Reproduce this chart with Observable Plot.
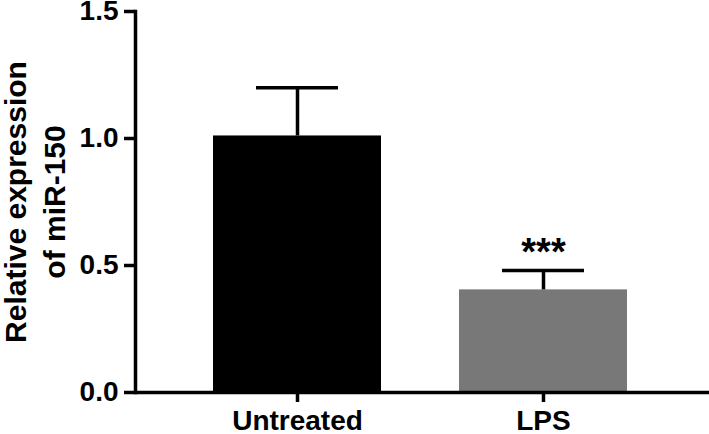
<!DOCTYPE html>
<html><head><meta charset="utf-8">
<script src="https://cdn.jsdelivr.net/npm/d3@7"></script>
<script src="https://cdn.jsdelivr.net/npm/@observablehq/plot@0.6"></script>
<style>body{margin:0;background:#fff}</style>
</head><body><div id="chart"></div>
<script>
const groups = ["Untreated", "LPS"];
const means = [1.01, 0.404];
const errors = [0.19, 0.076];
const significance = ["", "***"];
const barColors = ["#000000", "#787878"];
const yTicks = [0, 0.5, 1.0, 1.5];
const yTitleLines = ["Relative expression", "of miR-150"];

const data = groups.map((g, i) => ({group: g, mean: means[i], err: errors[i], sig: significance[i]}));
const font = '"Liberation Sans", Arial, sans-serif';
const chart = Plot.plot({
  width: 709, height: 434, marginLeft: 135, marginRight: 0, marginTop: 11, marginBottom: 42,
  style: {fontFamily: font, fontWeight: "bold", color: "#000", background: "#fff", overflow: "visible"},
  x: {domain: groups, range: [135, 705], padding: 0.317, axis: null},
  y: {domain: [0, 1.5], axis: null},
  color: {domain: groups, range: barColors},
  marks: [
    Plot.barY(data, {x: "group", y: "mean", fill: "group"}),
    Plot.ruleX(data, {x: "group", y1: "mean", y2: d => d.mean + d.err, strokeWidth: 3.5}),
    Plot.tickY(data, {x: "group", y: d => d.mean + d.err, insetLeft: 43, insetRight: 43, strokeWidth: 3.5}),
    Plot.text(data, {x: "group", y: d => d.mean + d.err, text: "sig", fontSize: 38, dy: -18}),
    Plot.axisY({ticks: yTicks, tickFormat: d3.format(".1f"), tickSize: 11, tickPadding: 6, fontSize: 28, strokeWidth: 3.5, label: null}),
    Plot.axisX({tickSize: 10, tickPadding: 8, fontSize: 28, strokeWidth: 3.5, label: null}),
    Plot.frame({anchor: "left", strokeWidth: 3.5}),
    Plot.ruleY([0], {strokeWidth: 3.5}),
    Plot.text([yTitleLines.join("\n")], {text: d => d, frameAnchor: "left", textAnchor: "middle", rotate: -90, dx: -102, fontSize: 30, lineHeight: 1.3, lineAnchor: "middle"})
  ]
});
document.getElementById("chart").appendChild(chart);
</script>
</body></html>
